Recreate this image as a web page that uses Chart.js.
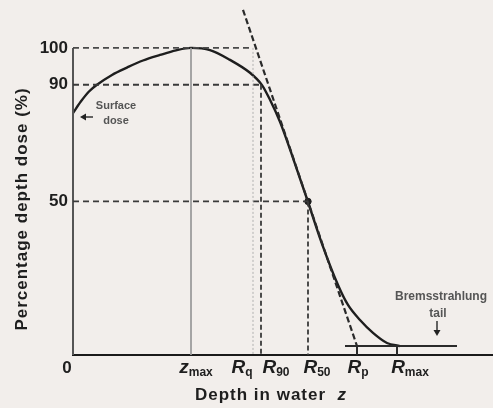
<!DOCTYPE html>
<html>
<head>
    <meta charset="utf-8">
    <title>Percentage depth dose</title>
    <script src="https://cdn.jsdelivr.net/npm/chart.js"></script>
    <style>
        html, body { margin: 0; padding: 0; background: #f2eeeb; }
        #wrap { width: 493px; height: 408px; }
    </style>
</head>
<body>
<div id="wrap"><canvas id="pdd"></canvas></div>

<script>
    // Depth positions (arbitrary units) of the marked depths
    const zMax = 11.8, Rq = 18.0, R90 = 18.8, R50 = 23.5, Rp = 28.4, Rmax = 32.4;
    const tailEnd = 38.4, tailLevel = 2.9;
    const level90 = 88;   // where the "90" line sits in the drawing

    // x tick labels: main letter + subscript
    const xTickValues = [0, zMax, Rq, R90, R50, Rp, Rmax];
    const xTickMain   = ['0', 'z', 'R', 'R', 'R', 'R', 'R'];
    const xTickSub    = ['', 'max', 'q', '90', '50', 'p', 'max'];

    // y tick labels
    const yTickValues = [50, level90, 100];
    const yTickLabels = ['50', '90', '100'];

    // depth dose curve
    const curveDepth = [0, 0.8, 1.6, 2.4, 3.9, 5.4, 7.0, 8.7, 10.3, 11.8, 13.7, 15.7, 17.7, 18.9,
                        19.7, 20.7, 21.9, 23.4, 24.9, 26.5, 27.5, 28.7, 30.0, 31.4, 32.7];
    const curveDose  = [78.8, 82.6, 85.8, 88.0, 91.2, 93.6, 95.9, 97.7, 99.2, 100, 99.3, 96.1, 91.9, 87.9,
                        83.1, 75.9, 65.1, 50.8, 36.2, 22.8, 16.3, 11.4, 7.2, 3.9, 2.9];

    // tangent through the 50% point
    const tangentDepth = [17.0, Rp];
    const tangentDose  = [112.4, tailLevel];

    const FONT = '"Liberation Sans", Arial, sans-serif';
    const INK = '#1e1e1e';

    function seg(x0, y0, x1, y1) { return [{x: x0, y: y0}, {x: x1, y: y1}]; }

    function lineSet(data, color, width, dash) {
        return {
            data: data, showLine: true, borderColor: color, borderWidth: width,
            borderDash: dash || [], pointRadius: 0, fill: false, clip: false
        };
    }

    const annot = {
        id: 'annot',
        beforeDraw(chart) {
            const ctx = chart.ctx;
            ctx.save();
            ctx.fillStyle = '#f2eeeb';
            ctx.fillRect(0, 0, chart.width, chart.height);
            ctx.restore();
        },
        afterDraw(chart) {
            const {ctx, scales: {x, y}} = chart;
            ctx.save();
            ctx.fillStyle = INK;
            ctx.strokeStyle = INK;
            const mainFont = i => (i === 0 ? 'bold 17px ' : 'italic bold 19px ') + FONT;
            const subFont = 'bold 12px ' + FONT;

            // x tick labels with subscripts
            const nudge = [-6, 5, -11, 15, 9, 1, 13];
            const ty = y.getPixelForValue(0) + 13;
            xTickValues.forEach((v, i) => {
                ctx.font = mainFont(i);
                const wMain = ctx.measureText(xTickMain[i]).width;
                ctx.font = subFont;
                const wSub = ctx.measureText(xTickSub[i]).width;
                const left = x.getPixelForValue(v) + nudge[i] - (wMain + wSub) / 2;
                ctx.textAlign = 'left';
                ctx.textBaseline = 'middle';
                ctx.font = mainFont(i);
                ctx.fillText(xTickMain[i], left, ty);
                ctx.font = subFont;
                ctx.fillText(xTickSub[i], left + wMain, ty + 5);
            });

            // axis titles
            ctx.letterSpacing = '1px';
            ctx.textBaseline = 'middle';
            ctx.font = 'bold 17px ' + FONT;
            const xt = 'Depth in water  ';
            const wx = ctx.measureText(xt).width;
            ctx.font = 'italic bold 17px ' + FONT;
            const wz = ctx.measureText('z').width;
            const xStart = 271 - (wx + wz) / 2;
            ctx.textAlign = 'left';
            ctx.font = 'bold 17px ' + FONT;
            ctx.fillText(xt, xStart, 395);
            ctx.font = 'italic bold 17px ' + FONT;
            ctx.fillText('z', xStart + wx, 395);

            ctx.save();
            ctx.translate(22, 209);
            ctx.rotate(-Math.PI / 2);
            ctx.textAlign = 'center';
            ctx.font = 'bold 17px ' + FONT;
            ctx.fillText('Percentage depth dose (%)', 0, 0);
            ctx.restore();

            // small notes
            ctx.letterSpacing = '0px';
            ctx.fillStyle = '#555';
            ctx.textAlign = 'center';
            ctx.font = 'bold 11px ' + FONT;
            ctx.fillText('Surface', x.getPixelForValue(4.3), y.getPixelForValue(81.1));
            ctx.fillText('dose', x.getPixelForValue(4.3), y.getPixelForValue(76.2));
            ctx.font = 'bold 12px ' + FONT;
            ctx.fillText('Bremsstrahlung', x.getPixelForValue(36.8), y.getPixelForValue(18.9));
            ctx.fillText('tail', x.getPixelForValue(36.5), y.getPixelForValue(13.5));

            // arrows
            ctx.fillStyle = '#222';
            ctx.strokeStyle = '#333';
            ctx.lineWidth = 1.5;
            let ax0 = x.getPixelForValue(2.0), ax1 = x.getPixelForValue(0.7), ay = y.getPixelForValue(77.5);
            ctx.beginPath(); ctx.moveTo(ax0, ay); ctx.lineTo(ax1 + 4, ay); ctx.stroke();
            ctx.beginPath(); ctx.moveTo(ax1, ay); ctx.lineTo(ax1 + 6, ay - 3.5); ctx.lineTo(ax1 + 6, ay + 3.5); ctx.closePath(); ctx.fill();

            let bx = x.getPixelForValue(36.4), by0 = y.getPixelForValue(11.1), by1 = y.getPixelForValue(6.2);
            ctx.beginPath(); ctx.moveTo(bx, by0); ctx.lineTo(bx, by1 - 4); ctx.stroke();
            ctx.beginPath(); ctx.moveTo(bx, by1); ctx.lineTo(bx - 3.5, by1 - 6); ctx.lineTo(bx + 3.5, by1 - 6); ctx.closePath(); ctx.fill();

            ctx.restore();
        }
    };

    const datasets = [
        lineSet(seg(zMax, 100, zMax, 0), '#9a9a9a', 1),
        lineSet(seg(Rq, 100, Rq, 0), '#b0b0b0', 1, [2, 2]),
        lineSet(seg(0, 100, Rq, 100), '#4a4a4a', 1.6, [6, 4]),
        lineSet(seg(0, level90, R90, level90), '#3a3a3a', 1.8, [6, 4]),
        lineSet(seg(0, 50, R50, 50), '#3a3a3a', 1.8, [6, 4]),
        lineSet(seg(R90, level90, R90, 0), '#3a3a3a', 1.8, [5, 3]),
        lineSet(seg(R50, 50, R50, 0), '#3a3a3a', 1.8, [5, 3]),
        lineSet(tangentDepth.map((d, i) => ({x: d, y: tangentDose[i]})), '#2a2a2a', 2.2, [6, 3]),
        lineSet(seg(Rp - 1.2, tailLevel, tailEnd, tailLevel), '#2a2a2a', 2),
        lineSet(seg(Rp, tailLevel, Rp, 0), '#2a2a2a', 2),
        lineSet(seg(Rmax, tailLevel, Rmax, 0), '#2a2a2a', 2),
        lineSet(seg(0, 0, 0, 100), '#555', 2),
        Object.assign(lineSet(curveDepth.map((d, i) => ({x: d, y: curveDose[i]})), INK, 2.4),
            { cubicInterpolationMode: 'monotone' }),
        { data: [{x: R50, y: 50}], showLine: false, pointRadius: 3.2,
          pointBackgroundColor: INK, pointBorderColor: INK, clip: false }
    ];

    new Chart(document.getElementById('pdd'), {
        type: 'scatter',
        data: { datasets: datasets },
        options: {
            responsive: true,
            maintainAspectRatio: false,
            animation: false,
            layout: { padding: 0, autoPadding: false },
            plugins: { legend: { display: false }, tooltip: { enabled: false } },
            scales: {
                x: {
                    type: 'linear', min: 0, max: 42,
                    grid: { display: false, drawTicks: false },
                    border: { display: true, color: '#1a1a1a', width: 2 },
                    ticks: { display: false },
                    afterFit(s) { s.height = 53; s.paddingLeft = 0; s.paddingRight = 0; }
                },
                y: {
                    type: 'linear', min: 0, max: 115.6,
                    grid: { display: false, drawTicks: false },
                    border: { display: false },
                    afterBuildTicks(s) { s.ticks = yTickValues.map(v => ({ value: v })); },
                    ticks: {
                        padding: 5,
                        color: INK,
                        font: { family: FONT, size: 17, weight: 'bold' },
                        callback: v => yTickLabels[yTickValues.indexOf(v)]
                    },
                    afterFit(s) { s.width = 73; s.paddingTop = 0; s.paddingBottom = 0; }
                }
            }
        },
        plugins: [annot]
    });
</script>
</body>
</html>
